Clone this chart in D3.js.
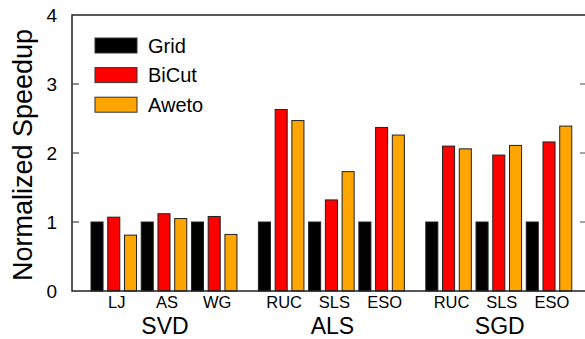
<!DOCTYPE html>
<html>
<head>
<meta charset="utf-8">
<script src="https://cdn.jsdelivr.net/npm/d3@7"></script>
<style>
  body { margin: 0; background: #fff; }
  text { font-family: "Liberation Sans", Arial, sans-serif; fill: #000; }
</style>
</head>
<body>
<div id="chart"></div>
<script>
// workloads and datasets
const groups = ['SVD', 'ALS', 'SGD'];
const datasets = [['LJ', 'AS', 'WG'], ['RUC', 'SLS', 'ESO'], ['RUC', 'SLS', 'ESO']];
const seriesNames = ['Grid', 'BiCut', 'Aweto'];
const seriesColors = ['#000000', '#ff0000', '#ffa500'];

// speedup normalized to Grid
const grid  = [1, 1, 1, 1, 1, 1, 1, 1, 1];
const bicut = [1.07, 1.12, 1.08, 2.63, 1.32, 2.37, 2.10, 1.97, 2.16];
const aweto = [0.81, 1.05, 0.82, 2.47, 1.73, 2.26, 2.06, 2.11, 2.39];
const yTicks = [0, 1, 2, 3, 4];

const width = 585, height = 339;
const plotLeft = 72, plotRight = 588, plotTop = 15, plotBottom = 291;

const svg = d3.select('#chart').append('svg')
    .attr('width', width)
    .attr('height', height);

const y = d3.scaleLinear().domain([0, 4]).range([plotBottom, plotTop]);

// one slot per bar, one empty slot between workloads
const slots = [];
groups.forEach((g, gi) => {
    datasets[gi].forEach((d, di) => {
        seriesNames.forEach((s, si) => slots.push(`${g}-${d}-${s}`));
    });
    if (gi < groups.length - 1) slots.push(`gap-${gi}`);
});
const step = 16.74;
const x = d3.scaleBand().domain(slots)
    .range([88.66, 88.66 + slots.length * step])
    .paddingInner(0.28).paddingOuter(0.14);

const series = [grid, bicut, aweto];
const bars = [];
groups.forEach((g, gi) => {
    datasets[gi].forEach((d, di) => {
        seriesNames.forEach((s, si) => {
            bars.push({key: `${g}-${d}-${s}`, value: series[si][gi * 3 + di], color: seriesColors[si]});
        });
    });
});

svg.append('g').selectAll('rect')
    .data(bars)
    .enter()
    .append('rect')
    .attr('x', d => x(d.key))
    .attr('width', x.bandwidth())
    .attr('y', d => y(d.value))
    .attr('height', d => y(0) - y(d.value))
    .style('fill', d => d.color)
    .style('stroke', '#222')
    .style('stroke-width', 1);

// frame
svg.append('rect')
    .attr('x', plotLeft).attr('y', plotTop)
    .attr('width', plotRight - plotLeft).attr('height', plotBottom - plotTop)
    .style('fill', 'none').style('stroke', '#222').style('stroke-width', 1.5);

// ticks, left and right (inward)
svg.append('g').selectAll('line')
    .data(yTicks.slice(1, -1))
    .enter().append('line')
    .attr('x1', plotLeft).attr('x2', plotLeft + 7)
    .attr('y1', d => y(d)).attr('y2', d => y(d))
    .style('stroke', '#444').style('stroke-width', 1.2);
svg.append('g').selectAll('line')
    .data(yTicks.slice(1, -1))
    .enter().append('line')
    .attr('x1', 580).attr('x2', plotRight)
    .attr('y1', d => y(d)).attr('y2', d => y(d))
    .style('stroke', '#666').style('stroke-width', 1.2);

svg.append('g').selectAll('text')
    .data(yTicks)
    .enter().append('text')
    .attr('x', 57)
    .attr('y', d => y(d))
    .attr('dy', '0.36em')
    .attr('text-anchor', 'end')
    .style('font-size', '19px')
    .text(d => d);

svg.append('text')
    .attr('transform', `translate(32,${(plotTop + plotBottom) / 2 + 2}) rotate(-90)`)
    .attr('text-anchor', 'middle')
    .style('font-size', '27px')
    .text('Normalized Speedup');

// dataset labels under each trio of bars
groups.forEach((g, gi) => {
    datasets[gi].forEach((d, di) => {
        const mid = x(`${g}-${d}-BiCut`) + x.bandwidth() / 2 + 3;
        svg.append('text')
            .attr('x', mid).attr('y', 308)
            .attr('text-anchor', 'middle')
            .style('font-size', '16.5px')
            .text(d);
    });
    const c = x(`${g}-${datasets[gi][1]}-BiCut`) + x.bandwidth() / 2 + 1;
    svg.append('text')
        .attr('x', c).attr('y', 334)
        .attr('text-anchor', 'middle')
        .style('font-size', '23px')
        .text(g);
});

// legend
const legend = svg.append('g').selectAll('g')
    .data(seriesNames)
    .enter().append('g')
    .attr('transform', (d, i) => `translate(95,${38 + i * 29.6})`);
legend.append('rect')
    .attr('width', 42).attr('height', 15)
    .style('fill', (d, i) => seriesColors[i])
    .style('stroke', '#333').style('stroke-width', 1);
legend.append('text')
    .attr('x', 53).attr('y', 7.5)
    .attr('dy', '0.36em')
    .style('font-size', '20px')
    .text(d => d);
</script>
</body>
</html>
